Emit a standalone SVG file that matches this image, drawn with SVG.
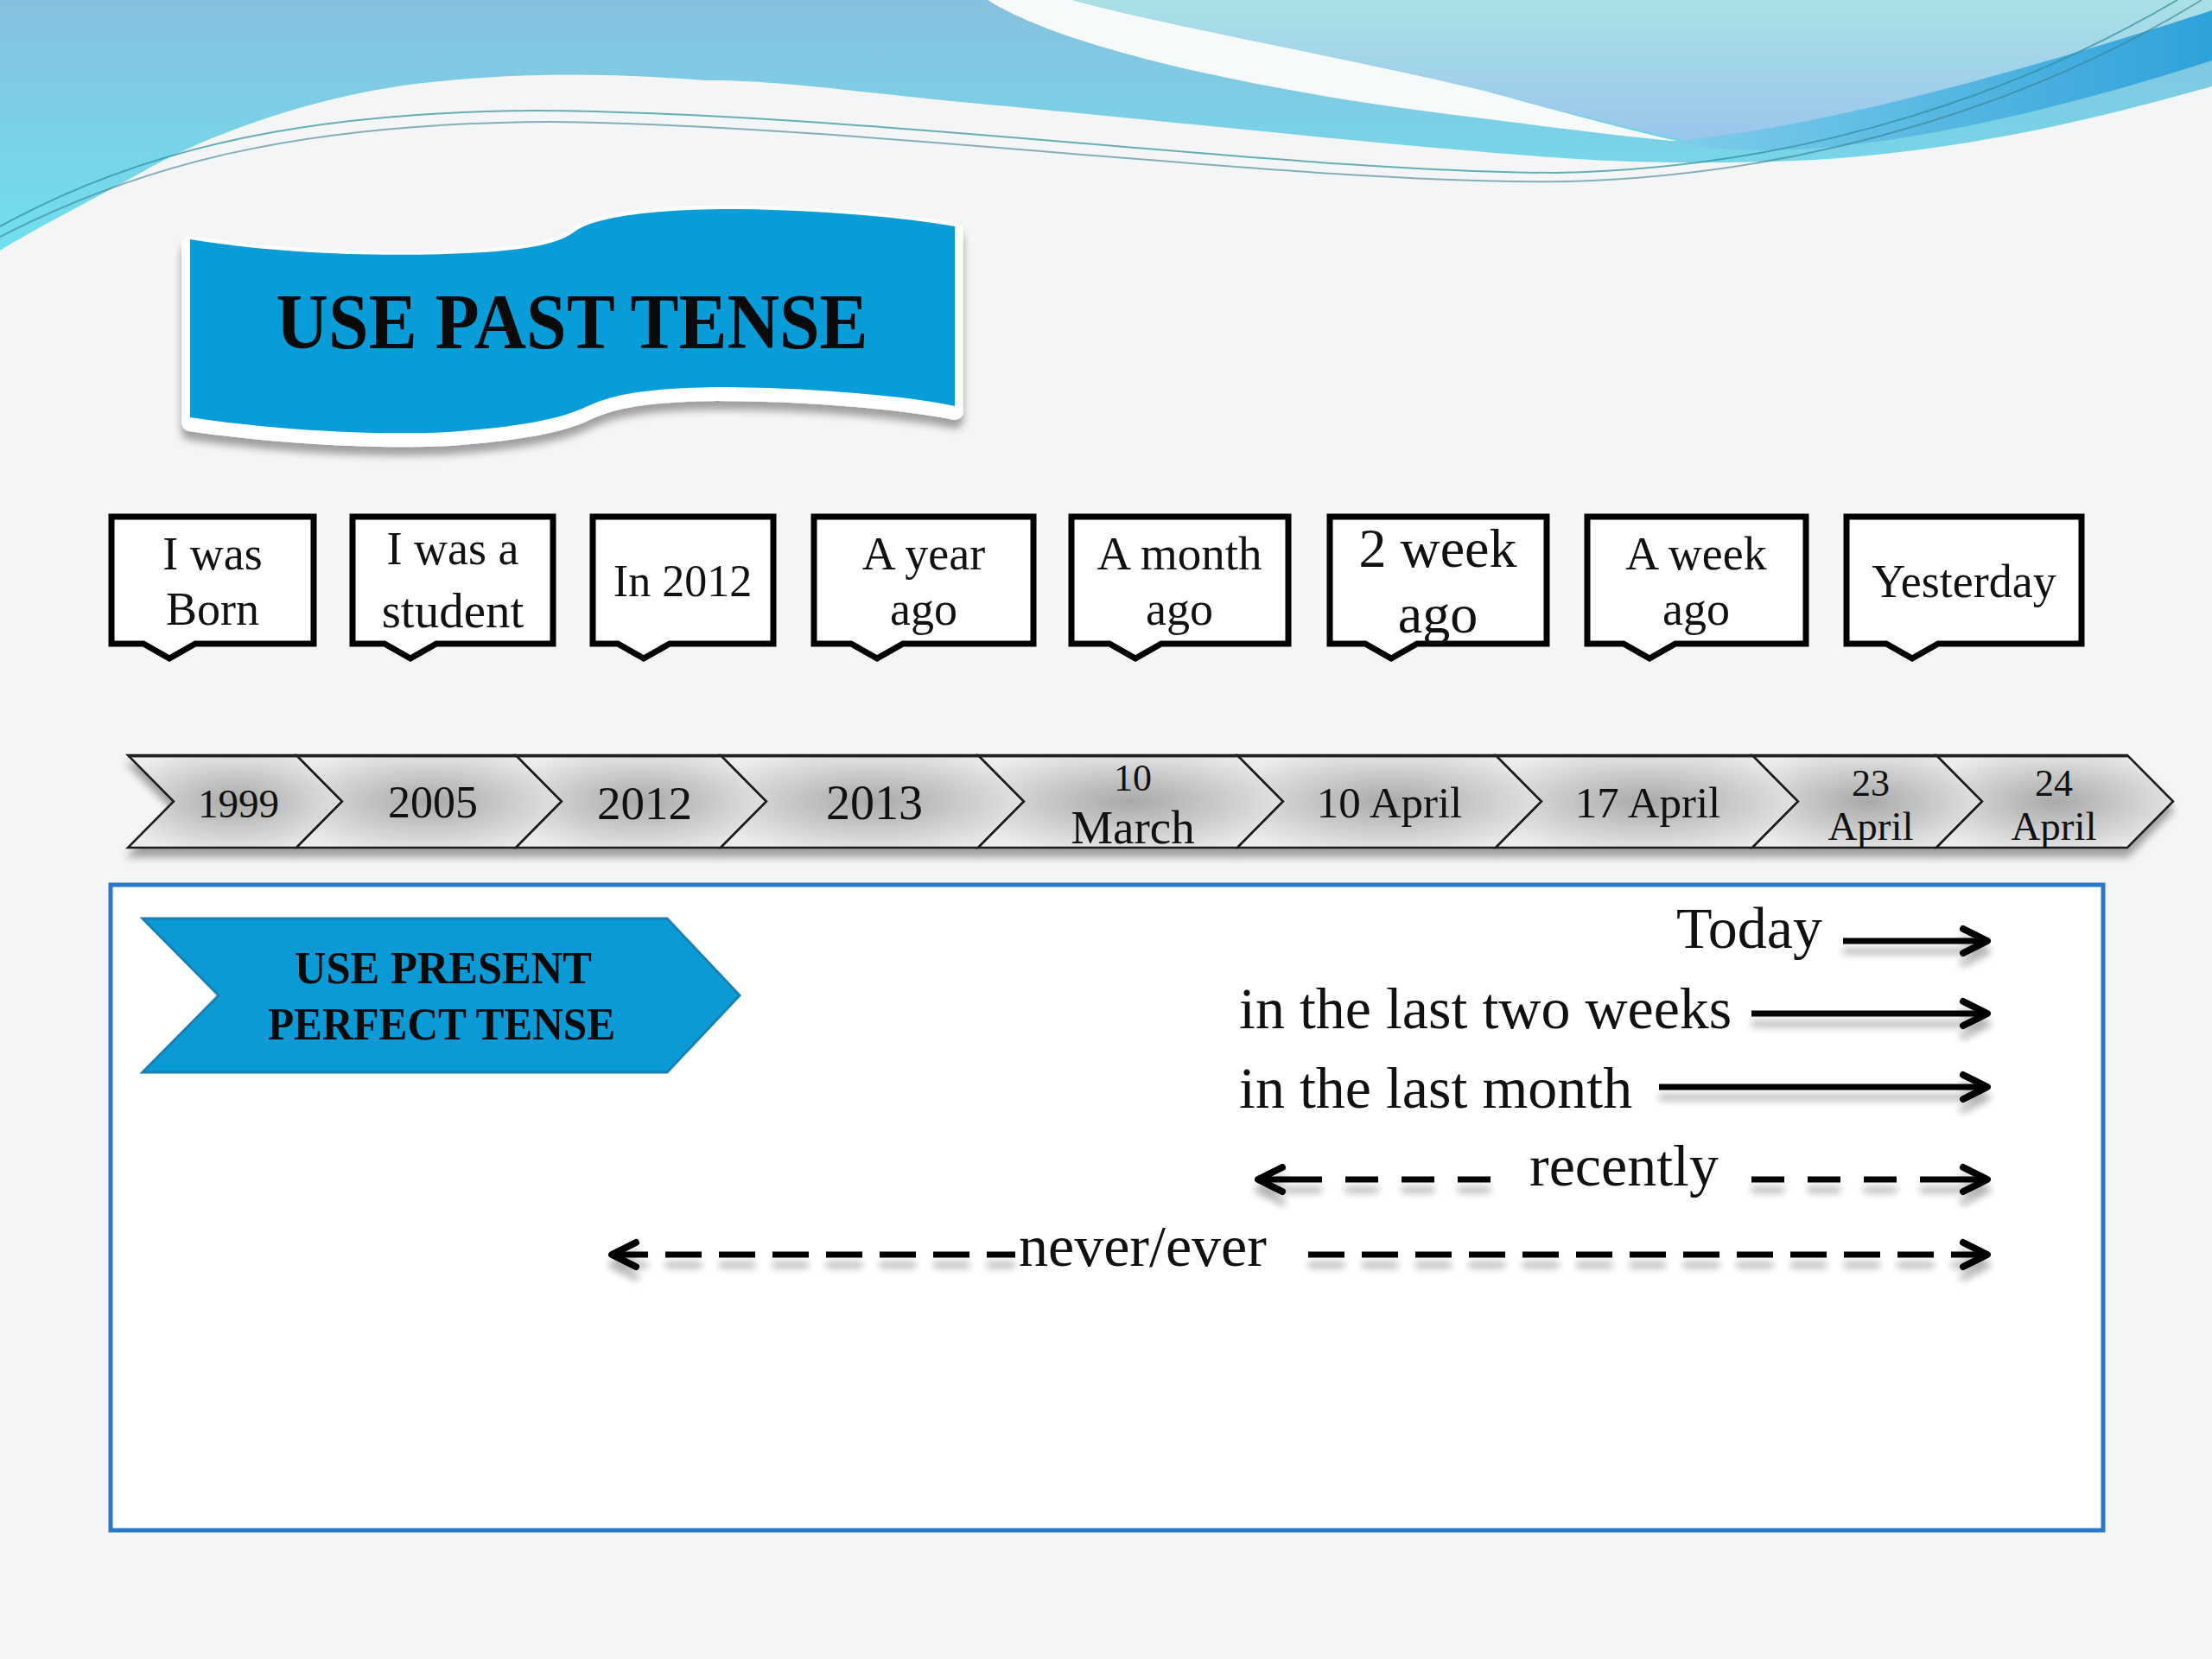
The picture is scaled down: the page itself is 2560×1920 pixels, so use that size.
<svg xmlns="http://www.w3.org/2000/svg" width="2560" height="1920" viewBox="0 0 2560 1920">
<defs>
<style>
.lbl{font-family:"Liberation Serif","DejaVu Serif",serif;fill:#111;text-anchor:middle}
.bold{font-family:"Liberation Serif","DejaVu Serif",serif;font-weight:bold;fill:#0a0a0a;text-anchor:middle}
.call{fill:#fff;stroke:#000;stroke-width:7;stroke-linejoin:miter}
.chev{fill:url(#chevFill);stroke:#1c1c1c;stroke-width:2.5;stroke-linejoin:miter}
.arr{fill:none;stroke:#000;stroke-width:7}
.txt{font-family:"Liberation Serif","DejaVu Serif",serif;fill:#111;font-size:68px}
</style>
<linearGradient id="gA" x1="0" y1="0" x2="0" y2="1">
<stop offset="0" stop-color="#86C1DE"/><stop offset="1" stop-color="#70E0EE"/></linearGradient>
<linearGradient id="gB" x1="0" y1="0" x2="0" y2="1">
<stop offset="0" stop-color="#ABE0E6"/><stop offset="1" stop-color="#98C6EC"/></linearGradient>
<linearGradient id="gS" x1="0" y1="0" x2="1" y2="0">
<stop offset="0" stop-color="#7FCDEA"/><stop offset="1" stop-color="#2FA2DA"/></linearGradient>
<radialGradient id="chevFill" cx="0.5" cy="0.5" r="0.6">
<stop offset="0" stop-color="#A9A9A9"/><stop offset="1" stop-color="#EDEDED"/></radialGradient>
<filter id="sh" filterUnits="userSpaceOnUse" x="0" y="0" width="2560" height="1920">
<feGaussianBlur in="SourceAlpha" stdDeviation="5"/><feOffset dy="10"/>
<feComponentTransfer><feFuncA type="linear" slope="0.35"/></feComponentTransfer>
<feMerge><feMergeNode/><feMergeNode in="SourceGraphic"/></feMerge></filter>
<filter id="shA" filterUnits="userSpaceOnUse" x="0" y="0" width="2560" height="1920">
<feGaussianBlur in="SourceAlpha" stdDeviation="4"/><feOffset dy="12"/>
<feComponentTransfer><feFuncA type="linear" slope="0.3"/></feComponentTransfer>
<feMerge><feMergeNode/><feMergeNode in="SourceGraphic"/></feMerge></filter>
<marker id="ah" viewBox="0 0 40 40" refX="34" refY="20" markerWidth="40" markerHeight="40" markerUnits="userSpaceOnUse" orient="auto-start-reverse" overflow="visible">
<path d="M6,6 L34,20 L6,34" fill="none" stroke="#000" stroke-width="8" stroke-linecap="round" stroke-linejoin="round"/></marker>
</defs>

<rect width="2560" height="1920" fill="#F3F5F6"/>

<g id="background-waves">
<path d="M0,0 H2560 V100 C2450,130 2300,172 2100,185 C1950,192 1850,186 1796,182 C1600,168 1300,135 1143,121 C1000,108 900,92 816,93 C700,84 600,84 490,96 C380,108 250,150 163,200 C100,235 40,265 0,290 Z" fill="url(#gA)"/>
<path d="M1143,0 C1230,55 1450,105 1700,135 C1800,148 1880,158 1945,164 C1880,150 1780,122 1714,104 C1550,65 1350,30 1241,0 Z" fill="#F7FAFB"/>
<path d="M1241,0 H2560 V25 C2450,60 2300,115 2100,150 C2030,160 1985,164 1960,164 C1860,142 1780,122 1714,104 C1550,65 1350,30 1241,0 Z" fill="url(#gB)"/>
<path d="M1930,164 C2100,150 2350,80 2560,12 V70 C2400,122 2200,172 2050,174 C2000,174 1960,170 1930,164 Z" fill="url(#gS)"/>
<path d="M0,262 C150,180 330,130 620,128 C1000,130 1500,200 1800,200 C2100,195 2350,100 2520,0" fill="none" stroke="#2B8E9C" stroke-width="2" opacity="0.7"/>
<path d="M0,274 C160,192 340,142 640,141 C1020,146 1500,214 1815,210 C2110,202 2370,110 2548,0" fill="none" stroke="#3C7F90" stroke-width="2" opacity="0.6"/>
</g>

<g id="title-banner">
<path d="M220,277 C300,290 420,300 560,292 C620,288 650,280 665,268 C690,250 760,242 850,242 C950,243 1050,252 1105,262 L1105,470 C1050,458 930,448 830,448 C750,449 710,456 680,470 C650,485 600,494 520,500 C420,505 300,495 220,483 Z" fill="#fff" stroke="#fff" stroke-width="20" stroke-linejoin="round" transform="translate(0,6)" filter="url(#sh)"/>
<path d="M220,277 C300,290 420,300 560,292 C620,288 650,280 665,268 C690,250 760,242 850,242 C950,243 1050,252 1105,262 L1105,470 C1050,458 930,448 830,448 C750,449 710,456 680,470 C650,485 600,494 520,500 C420,505 300,495 220,483 Z" fill="#089CD8"/>
<text class="bold" x="662" y="403" font-size="90" textLength="685" lengthAdjust="spacingAndGlyphs">USE PAST TENSE</text>
</g>

<g id="callout-1"><path class="call" d="M129,598 H363 V745 H226 L196,762 L166,745 H129 Z"/>
<text class="lbl" x="246" y="659" font-size="54">I was</text><text class="lbl" x="246" y="723" font-size="54">Born</text></g>
<g id="callout-2"><path class="call" d="M408,598 H640 V745 H505 L475,762 L445,745 H408 Z"/>
<text class="lbl" x="524" y="653" font-size="54">I was a</text><text class="lbl" x="524" y="726" font-size="57">student</text></g>
<g id="callout-3"><path class="call" d="M686,598 H895 V745 H775 L745,762 L715,745 H686 Z"/>
<text class="lbl" x="790" y="690" font-size="52">In 2012</text></g>
<g id="callout-4"><path class="call" d="M942,598 H1196 V745 H1045 L1015,762 L985,745 H942 Z"/>
<text class="lbl" x="1069" y="659" font-size="54">A year</text><text class="lbl" x="1069" y="723" font-size="54">ago</text></g>
<g id="callout-5"><path class="call" d="M1240,598 H1491 V745 H1344 L1314,762 L1284,745 H1240 Z"/>
<text class="lbl" x="1365" y="659" font-size="55">A month</text><text class="lbl" x="1365" y="723" font-size="54">ago</text></g>
<g id="callout-6"><path class="call" d="M1539,598 H1790 V745 H1640 L1610,762 L1580,745 H1539 Z"/>
<text class="lbl" x="1664" y="656" font-size="64">2 week</text><text class="lbl" x="1664" y="732" font-size="64">ago</text></g>
<g id="callout-7"><path class="call" d="M1837,598 H2090 V745 H1939 L1909,762 L1879,745 H1837 Z"/>
<text class="lbl" x="1963" y="659" font-size="54">A week</text><text class="lbl" x="1963" y="723" font-size="54">ago</text></g>
<g id="callout-8"><path class="call" d="M2137,598 H2409 V745 H2243 L2213,762 L2183,745 H2137 Z"/>
<text class="lbl" x="2273" y="691" font-size="54">Yesterday</text></g>

<g id="timeline" filter="url(#sh)">
<g id="chev-1"><polygon class="chev" points="148,874 343,874 396,927.5 343,981 148,981 201,927.5"/></g>
<g id="chev-2"><polygon class="chev" points="343,874 597,874 650,927.5 597,981 343,981 396,927.5"/></g>
<g id="chev-3"><polygon class="chev" points="597,874 834,874 887,927.5 834,981 597,981 650,927.5"/></g>
<g id="chev-4"><polygon class="chev" points="834,874 1132,874 1185,927.5 1132,981 834,981 887,927.5"/></g>
<g id="chev-5"><polygon class="chev" points="1132,874 1432,874 1485,927.5 1432,981 1132,981 1185,927.5"/></g>
<g id="chev-6"><polygon class="chev" points="1432,874 1731,874 1784,927.5 1731,981 1432,981 1485,927.5"/></g>
<g id="chev-7"><polygon class="chev" points="1731,874 2028,874 2081,927.5 2028,981 1731,981 1784,927.5"/></g>
<g id="chev-8"><polygon class="chev" points="2028,874 2241,874 2294,927.5 2241,981 2028,981 2081,927.5"/></g>
<g id="chev-9"><polygon class="chev" points="2241,874 2462,874 2515,927.5 2462,981 2241,981 2294,927.5"/></g>
<path d="M148,875 H2462" stroke="#222" stroke-width="3" fill="none"/>
</g>
<g id="timeline-labels">
<text class="lbl" x="276" y="946" font-size="47">1999</text>
<text class="lbl" x="501" y="946" font-size="52">2005</text>
<text class="lbl" x="746" y="948" font-size="55">2012</text>
<text class="lbl" x="1012" y="948" font-size="56">2013</text>
<text class="lbl" x="1311" y="915" font-size="44">10</text><text class="lbl" x="1311" y="976" font-size="55">March</text>
<text class="lbl" x="1608" y="946" font-size="51">10 April</text>
<text class="lbl" x="1907" y="946" font-size="51">17 April</text>
<text class="lbl" x="2165" y="921" font-size="44">23</text><text class="lbl" x="2165" y="972" font-size="47">April</text>
<text class="lbl" x="2377" y="921" font-size="44">24</text><text class="lbl" x="2377" y="972" font-size="47">April</text>
</g>

<g id="present-perfect-box">
<rect x="128" y="1024" width="2306" height="747" fill="#fff" stroke="#2A79C8" stroke-width="5"/>
</g>

<g id="present-perfect-label">
<polygon points="165,1063 772,1063 856,1152 772,1241 165,1241 253,1152" fill="#0A9AD6" stroke="#1A7FB4" stroke-width="3"/>
<text class="bold" x="513" y="1138" font-size="53" textLength="344" lengthAdjust="spacingAndGlyphs">USE PRESENT</text>
<text class="bold" x="511" y="1203" font-size="53" textLength="402" lengthAdjust="spacingAndGlyphs">PERFECT TENSE</text>
</g>

<g id="time-expressions">
<text class="txt" x="2109" y="1097" text-anchor="end" font-size="64">Today</text>
<text class="txt" x="1434" y="1190">in the last two weeks</text>
<text class="txt" x="1434" y="1282">in the last month</text>
<text class="txt" x="1770" y="1372">recently</text>
<text class="txt" x="1179" y="1465">never/ever</text>
</g>

<g id="connectors" filter="url(#shA)">
<path class="arr" d="M2133,1089 H2300" marker-end="url(#ah)"/>
<path class="arr" d="M2027,1173 H2300" marker-end="url(#ah)"/>
<path class="arr" d="M1920,1258 H2300" marker-end="url(#ah)"/>
<path class="arr" d="M1725,1365 H1456" stroke-dasharray="38 27 38 27 38 27 74" marker-end="url(#ah)"/>
<path class="arr" d="M2027,1365 H2300" stroke-dasharray="38 27 38 27 38 27 78" marker-end="url(#ah)"/>
<path class="arr" d="M708,1452 H1175" stroke-dasharray="42 20" marker-start="url(#ah)"/>
<path class="arr" d="M2300,1452 H1495" stroke-dasharray="42 20" marker-start="url(#ah)"/>
</g>
</svg>
